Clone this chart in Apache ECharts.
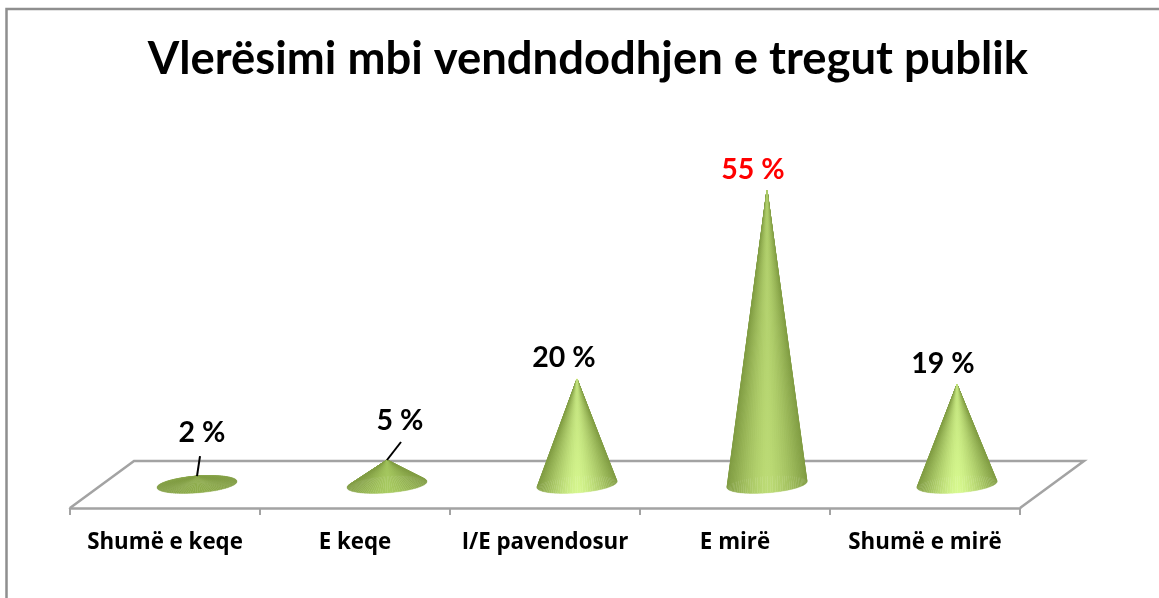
<!DOCTYPE html>
<html>
<head>
<meta charset="utf-8">
<style>
  html, body { margin: 0; padding: 0; background: #fff; }
  #chart { width: 1159px; height: 598px; }
</style>
<script src="https://cdn.jsdelivr.net/npm/echarts@6/dist/echarts.min.js"></script>
</head>
<body>
<div id="chart"></div>
<script>
  // data
  const categories = ['Shumë e keqe', 'E keqe', 'I/E pavendosur', 'E mirë', 'Shumë e mirë'];
  const values = [2, 5, 20, 55, 19];
  const titleText = 'Vlerësimi mbi vendndodhjen e tregut publik';

  // look of the 3D floor and cones
  const depthX = 64;
  const depthY = -47;
  const baseLift = 2.5;
  const radiusRatio = 0.211;
  const ellipseRatio = 0.21;
  const tilt = (-4.5 * Math.PI) / 180;
  const slices = 96;
  const edgeColor = [128, 156, 66];
  const peakColors = ['#8fae4c', '#a9cc62', '#d6f78f', '#bddc76', '#d8fa90'];
  const labelOffsets = [[5, -43], [13, -39], [-13, -21], [-14, -20], [-14, -21]];
  const leaderEnds = [[3, -20], [14, -18], null, null, null];
  const maxValue = Math.max(...values);

  const hexToRgb = (hex) => [1, 3, 5].map((i) => parseInt(hex.slice(i, i + 2), 16));
  const mix = (a, b, t) => 'rgb(' + a.map((v, i) => Math.round(v + (b[i] - v) * t)).join(',') + ')';

  // 地板
  const renderFloor = (params) => {
    const { x, y, width, height } = params.coordSys;
    const bottom = y + height;
    return {
      type: 'polyline',
      shape: {
        points: [
          [x, bottom],
          [x + depthX, bottom + depthY],
          [x + width + depthX, bottom + depthY],
          [x + width, bottom],
        ],
      },
      style: { fill: null, stroke: '#a3a3a3', lineWidth: 2.5 },
      silent: true,
    };
  };

  // 圆锥: a fan of thin triangles from the tip to the base ellipse
  const renderCone = (params, api) => {
    const i = api.value(0);
    const value = api.value(1);
    const base = api.coord([i, 0]);
    const tip = api.coord([i, value]);
    const cx = base[0] + depthX / 2;
    const cy = base[1] - baseLift;
    const rx = api.size([1, 0])[0] * radiusRatio;
    const ry = rx * ellipseRatio;
    const peak = hexToRgb(peakColors[i]);
    const tipX = tip[0] + depthX / 2;
    const children = [];

    const steps = [];
    for (let s = 0; s < slices; s++) steps.push(s);
    // back of the cone first, front last
    steps.sort((a, b) => Math.sin(((a + 0.5) / slices) * 2 * Math.PI) - Math.sin(((b + 0.5) / slices) * 2 * Math.PI));

    const point = (theta) => [
      cx + rx * Math.cos(theta) * Math.cos(tilt) - ry * Math.sin(theta) * Math.sin(tilt),
      cy + rx * Math.cos(theta) * Math.sin(tilt) + ry * Math.sin(theta) * Math.cos(tilt),
    ];

    steps.forEach((s) => {
      const a = (s / slices) * 2 * Math.PI;
      const b = ((s + 1) / slices) * 2 * Math.PI;
      const mid = (a + b) / 2;
      const light = 1 - Math.pow(Math.abs(Math.cos(mid)), 1.4);
      const baseColor = mix(edgeColor, peak, light);
      const tipColor = mix(edgeColor, peak, light * 0.75);
      const fill = new echarts.graphic.LinearGradient(0, 0, 0, 1, [
        { offset: 0, color: tipColor },
        { offset: 1, color: baseColor },
      ]);
      children.push({
        type: 'polygon',
        shape: { points: [[tipX, tip[1]], point(a), point(b)] },
        style: { fill: fill, stroke: fill, lineWidth: 0.4 },
      });
    });

    if (leaderEnds[i]) {
      children.push({
        type: 'line',
        shape: { x1: tipX, y1: tip[1], x2: tipX + leaderEnds[i][0], y2: tip[1] + leaderEnds[i][1] },
        style: { stroke: '#000', lineWidth: 2 },
      });
    }

    children.push({
      type: 'text',
      style: {
        text: value + ' %',
        x: tipX + labelOffsets[i][0],
        y: tip[1] + labelOffsets[i][1],
        align: 'center',
        verticalAlign: 'middle',
        fill: value === maxValue ? '#ff0000' : '#000000',
        font: 'bold 28.5px Lato',
      },
    });
    return { type: 'group', children: children };
  };

  const myChart = echarts.init(document.getElementById('chart'), null, { renderer: 'canvas' });

  const option = {
    backgroundColor: '#ffffff',
    animation: false,
    title: {
      text: titleText,
      left: 583,
      top: 32,
      textAlign: 'center',
      textStyle: { fontFamily: 'Lato', fontWeight: 'bold', fontSize: 45.4, color: '#000000' },
    },
    graphic: [
      {
        type: 'polyline',
        shape: { points: [[6.5, 598], [6.5, 9], [1159, 9]] },
        style: { fill: null, stroke: '#8f8f8f', lineWidth: 2.5 },
        silent: true,
      },
    ],
    grid: { left: 70, right: 139, top: 190, bottom: 90 },
    xAxis: {
      type: 'category',
      data: categories,
      boundaryGap: true,
      axisLine: { onZero: false, lineStyle: { color: '#a3a3a3', width: 2.5 } },
      axisTick: { show: true, length: 7, lineStyle: { color: '#a3a3a3', width: 2 } },
      axisLabel: { interval: 0, margin: 24, color: '#000000', fontFamily: 'Open Sans', fontWeight: 'bold', fontSize: 22.3 },
    },
    yAxis: {
      type: 'value',
      min: -3.89,
      max: 55,
      show: false,
      splitLine: { show: false },
    },
    series: [
      {
        type: 'custom',
        coordinateSystem: 'cartesian2d',
        data: [[0, 0]],
        renderItem: renderFloor,
        silent: true,
        clip: false,
      },
      {
        type: 'custom',
        coordinateSystem: 'cartesian2d',
        data: values.map((v, i) => [i, v]),
        encode: { x: 0, y: 1 },
        renderItem: renderCone,
        silent: true,
        clip: false,
      },
    ],
  };

  option && myChart.setOption(option);
</script>
</body>
</html>
